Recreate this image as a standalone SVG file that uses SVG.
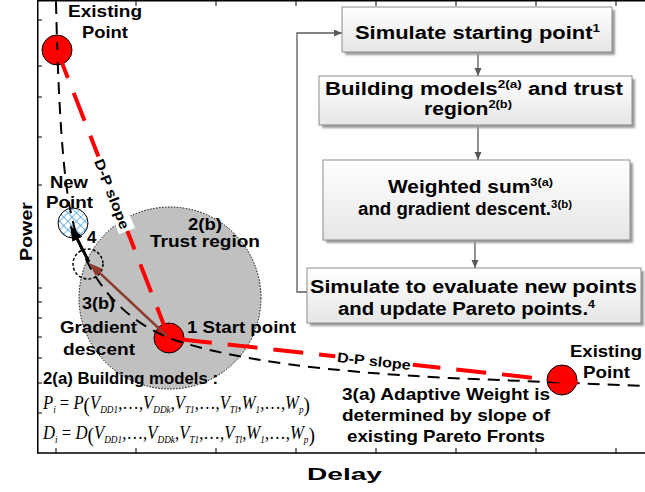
<svg xmlns="http://www.w3.org/2000/svg" width="645" height="492" viewBox="0 0 645 492">
  <defs>
    <style>
      .lbl{font-family:"Liberation Sans",Arial,sans-serif;font-weight:bold;font-size:17px;fill:#000}
      .bt{font-family:"Liberation Sans",Arial,sans-serif;font-weight:bold;font-size:18px;fill:#000}
      .sup{font-size:11px}
      .eq{font-family:"Liberation Serif","Times New Roman",serif;font-size:18px;fill:#000}
      .i{font-style:italic}
      .s{font-size:10px;font-style:italic}
      .par{font-size:21px}
      .box{fill:url(#boxfill);stroke:#8c8c8c;stroke-width:1}
      .shadow{fill:#9a9a9a;filter:url(#soft)}
      .flow{fill:none;stroke:#595959;stroke-width:1.3;marker-end:url(#flowhead)}
      .pt{fill:#ff0000;stroke:#000;stroke-width:1}
      .dp{font-family:"Liberation Sans",Arial,sans-serif;font-weight:bold;font-size:14px;fill:#000}
      .tick{stroke:#000;stroke-width:1}
    </style>
    <linearGradient id="boxfill" x1="0" y1="0" x2="0" y2="1">
      <stop offset="0" stop-color="#ffffff"/>
      <stop offset="1" stop-color="#e6e6e6"/>
    </linearGradient>
    <filter id="soft" x="-5%" y="-20%" width="110%" height="140%">
      <feGaussianBlur stdDeviation="1"/>
    </filter>
    <pattern id="hatch" width="6" height="6" patternUnits="userSpaceOnUse" patternTransform="rotate(45)">
      <rect width="6" height="6" fill="#ffffff"/>
      <path d="M0,0 V6 M0,0 H6" stroke="#3d9ee8" stroke-width="1.4"/>
    </pattern>
    <marker id="flowhead" markerUnits="userSpaceOnUse" markerWidth="9" markerHeight="8" refX="8" refY="3.5" orient="auto">
      <path d="M0,0 L8,3.5 L0,7 z" fill="#595959"/>
    </marker>
    <marker id="blackhead" markerUnits="userSpaceOnUse" markerWidth="17" markerHeight="12" refX="10" refY="5.5" orient="auto">
      <path d="M0,0 L16,5.5 L0,11 z" fill="#000"/>
    </marker>
    <marker id="brownhead" markerUnits="userSpaceOnUse" markerWidth="15" markerHeight="11" refX="9" refY="5" orient="auto">
      <path d="M0,0 L14,5 L0,10 z" fill="#8e3b2e"/>
    </marker>
  </defs>

  <rect width="645" height="492" fill="#ffffff"/>

  <!-- axes frame with ticks -->
  <g id="axes">
    <path d="M645,0.75 H37.75 V453 H645" fill="none" stroke="#000" stroke-width="1.5"/>
    <path class="tick" d="M56,1 v5 M136,1 v5 M216,1 v5 M296,1 v5 M376,1 v5 M456,1 v5 M536,1 v5 M616,1 v5"/>
    <path class="tick" d="M56,453 v-5 M136,453 v-5 M216,453 v-5 M296,453 v-5 M376,453 v-5 M456,453 v-5 M536,453 v-5 M616,453 v-5"/>
    <path class="tick" d="M38,20 h4 M38,66 h4 M38,97 h4 M38,137 h4 M38,185 h4 M38,288 h4 M38,302 h4 M38,318 h4 M38,337 h4 M38,358 h4 M38,383 h4 M38,413 h4"/>
    <text class="lbl" transform="translate(32,261) rotate(-90)" font-size="23" textLength="59" lengthAdjust="spacingAndGlyphs">Power</text>
    <text class="lbl" x="307" y="480" font-size="26" textLength="75" lengthAdjust="spacingAndGlyphs">Delay</text>
  </g>

  <!-- trust region -->
  <g id="trust-region">
    <circle cx="170" cy="298" r="91" fill="#c0c0c0" stroke="#000" stroke-width="1" stroke-dasharray="1.5 1.5"/>
    <text class="lbl" x="188" y="230" textLength="34" lengthAdjust="spacingAndGlyphs">2(b)</text>
    <text class="lbl" x="150" y="247" textLength="110" lengthAdjust="spacingAndGlyphs">Trust region</text>
  </g>

  <!-- Pareto points -->
  <g id="existing-point-top">
    <circle class="pt" cx="57" cy="50" r="15"/>
    <text class="lbl" x="68" y="17" textLength="74" lengthAdjust="spacingAndGlyphs">Existing</text>
    <text class="lbl" x="82" y="38" textLength="46" lengthAdjust="spacingAndGlyphs">Point</text>
  </g>
  <g id="start-point">
    <circle class="pt" cx="169" cy="338" r="15"/>
    <text class="lbl" x="187" y="333" textLength="109" lengthAdjust="spacingAndGlyphs">1 Start point</text>
  </g>
  <g id="existing-point-right">
    <circle class="pt" cx="562" cy="380" r="15"/>
    <text class="lbl" x="570" y="357" textLength="72" lengthAdjust="spacingAndGlyphs">Existing</text>
    <text class="lbl" x="583" y="378" textLength="47" lengthAdjust="spacingAndGlyphs">Point</text>
  </g>
  <g id="new-point">
    <circle cx="73" cy="223" r="15" fill="url(#hatch)" stroke="#000" stroke-width="1"/>
    <text class="lbl" x="50" y="188" textLength="38" lengthAdjust="spacingAndGlyphs">New</text>
    <text class="lbl" x="46" y="208" textLength="47" lengthAdjust="spacingAndGlyphs">Point</text>
  </g>
  <g id="candidate">
    <circle cx="88" cy="264" r="15" fill="none" stroke="#000" stroke-width="1.5" stroke-dasharray="3 2"/>
    <text class="lbl" x="87" y="243">4</text>
  </g>

  <!-- Pareto front, D-P slopes and flow links -->
  <g id="connectors">
    <path d="M56,2 C58,90 62,180 73,222 C84,270 115,316 169,338 C230,360 330,372 450,378 L645,386" fill="none" stroke="#000" stroke-width="2" stroke-dasharray="12 8"/>
    <path d="M57,50 L169,338 L590,384" fill="none" stroke="#ff0000" stroke-width="4" stroke-dasharray="30 16"/>
    <g transform="translate(112,194) rotate(68.7)">
      <rect x="-40" y="-9" width="80" height="17" fill="#fff"/>
      <text class="dp" x="-37" y="5" textLength="74" lengthAdjust="spacingAndGlyphs">D-P slope</text>
    </g>
    <g transform="translate(374,361) rotate(6.1)">
      <rect x="-39" y="-9" width="78" height="16" fill="#fff"/>
      <text class="dp" x="-37" y="5" textLength="74" lengthAdjust="spacingAndGlyphs">D-P slope</text>
    </g>
    <line x1="167" y1="336" x2="92.7" y2="266.4" stroke="#8e3b2e" stroke-width="2.5" marker-end="url(#brownhead)"/>
    <line x1="89" y1="262" x2="72.7" y2="230.3" stroke="#000" stroke-width="3" marker-end="url(#blackhead)"/>
    <line class="flow" x1="478" y1="52" x2="478" y2="76"/>
    <line class="flow" x1="478" y1="125" x2="478" y2="160"/>
    <line class="flow" x1="475" y1="240" x2="475" y2="268"/>
    <path class="flow" d="M307,292 H297 V33 H342"/>
  </g>

  <!-- step annotations -->
  <g id="gradient-label">
    <text class="lbl" x="82" y="309" textLength="33" lengthAdjust="spacingAndGlyphs">3(b)</text>
    <text class="lbl" x="60" y="333" textLength="77" lengthAdjust="spacingAndGlyphs">Gradient</text>
    <text class="lbl" x="63" y="355" textLength="72" lengthAdjust="spacingAndGlyphs">descent</text>
  </g>
  <g id="weight-label">
    <text class="lbl" x="342" y="400" textLength="208" lengthAdjust="spacingAndGlyphs">3(a) Adaptive Weight is</text>
    <text class="lbl" x="342" y="421" textLength="208" lengthAdjust="spacingAndGlyphs">determined by slope of</text>
    <text class="lbl" x="347" y="442" textLength="198" lengthAdjust="spacingAndGlyphs">existing Pareto Fronts</text>
  </g>
  <g id="models-label">
    <text class="lbl" x="43" y="384" textLength="175" lengthAdjust="spacingAndGlyphs">2(a) Building models :</text>
    <text class="eq" x="43" y="409" textLength="267" lengthAdjust="spacingAndGlyphs"><tspan class="i">P</tspan><tspan class="s" dy="4">i</tspan><tspan dy="-4"> = </tspan><tspan class="i">P</tspan><tspan class="par" dy="3">(</tspan><tspan class="i" dy="-3">V</tspan><tspan class="s" dy="4">DD1</tspan><tspan dy="-4">,…,</tspan><tspan class="i">V</tspan><tspan class="s" dy="4">DDk</tspan><tspan dy="-4">,</tspan><tspan class="i">V</tspan><tspan class="s" dy="4">T1</tspan><tspan dy="-4">,…,</tspan><tspan class="i">V</tspan><tspan class="s" dy="4">Tl</tspan><tspan dy="-4">,</tspan><tspan class="i">W</tspan><tspan class="s" dy="4">1</tspan><tspan dy="-4">,…,</tspan><tspan class="i">W</tspan><tspan class="s" dy="4">p</tspan><tspan class="par" dy="-1">)</tspan></text>
    <text class="eq" x="43" y="439" textLength="272" lengthAdjust="spacingAndGlyphs"><tspan class="i">D</tspan><tspan class="s" dy="4">i</tspan><tspan dy="-4"> = </tspan><tspan class="i">D</tspan><tspan class="par" dy="3">(</tspan><tspan class="i" dy="-3">V</tspan><tspan class="s" dy="4">DD1</tspan><tspan dy="-4">,…,</tspan><tspan class="i">V</tspan><tspan class="s" dy="4">DDk</tspan><tspan dy="-4">,</tspan><tspan class="i">V</tspan><tspan class="s" dy="4">T1</tspan><tspan dy="-4">,…,</tspan><tspan class="i">V</tspan><tspan class="s" dy="4">Tl</tspan><tspan dy="-4">,</tspan><tspan class="i">W</tspan><tspan class="s" dy="4">1</tspan><tspan dy="-4">,…,</tspan><tspan class="i">W</tspan><tspan class="s" dy="4">p</tspan><tspan class="par" dy="-1">)</tspan></text>
  </g>

  <!-- flowchart steps -->
  <g id="step-simulate-start">
    <rect class="shadow" x="345" y="10" width="270" height="45"/>
    <rect class="box" x="342" y="7" width="270" height="45"/>
    <text class="bt" x="355" y="38.5" textLength="245" lengthAdjust="spacingAndGlyphs">Simulate starting point<tspan class="sup" dy="-7">1</tspan></text>
  </g>
  <g id="step-build-models">
    <rect class="shadow" x="322" y="79" width="313" height="49"/>
    <rect class="box" x="319" y="76" width="313" height="49"/>
    <text class="bt" x="325" y="94.5" textLength="298" lengthAdjust="spacingAndGlyphs">Building models<tspan class="sup" dy="-7">2(a)</tspan><tspan dy="7"> and trust</tspan></text>
    <text class="bt" x="424" y="115" textLength="88" lengthAdjust="spacingAndGlyphs">region<tspan class="sup" dy="-7">2(b)</tspan></text>
  </g>
  <g id="step-weighted-sum">
    <rect class="shadow" x="326" y="163" width="307" height="80"/>
    <rect class="box" x="323" y="160" width="307" height="80"/>
    <text class="bt" x="388" y="193" textLength="165" lengthAdjust="spacingAndGlyphs">Weighted sum<tspan class="sup" dy="-7">3(a)</tspan></text>
    <text class="bt" x="358" y="215" textLength="214" lengthAdjust="spacingAndGlyphs">and gradient descent.<tspan class="sup" dy="-7">3(b)</tspan></text>
  </g>
  <g id="step-evaluate">
    <rect class="shadow" x="310" y="271" width="334" height="55"/>
    <rect class="box" x="307" y="268" width="334" height="55"/>
    <text class="bt" x="310" y="293" textLength="327" lengthAdjust="spacingAndGlyphs">Simulate to evaluate new points</text>
    <text class="bt" x="338" y="315" textLength="257" lengthAdjust="spacingAndGlyphs">and update Pareto points.<tspan class="sup" dy="-7">4</tspan></text>
  </g>
</svg>
